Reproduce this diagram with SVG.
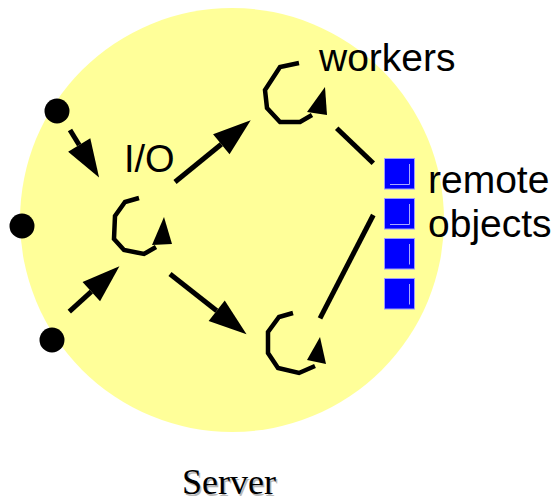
<svg xmlns="http://www.w3.org/2000/svg" width="557" height="502" viewBox="0 0 557 502">
  <defs>
    <style>
      .label { font-family: "Liberation Sans", Arial, sans-serif; font-size: 39px; fill: #000; }
      .caption { font-family: "Liberation Serif", "Times New Roman", serif; font-size: 36px; }
      .link { stroke: #000; stroke-width: 5; fill: none; }
      .loop { stroke: #000; stroke-width: 4.5; fill: none; stroke-linejoin: miter; }
      .tip { fill: #000; }
      .dot { fill: #000; }
      .obj { fill: #0000ff; stroke: #9c9cff; stroke-width: 1; }
      .bevel { stroke: #a8a8ff; stroke-width: 1; fill: none; }
    </style>
    <marker id="head" markerUnits="userSpaceOnUse" markerWidth="38" markerHeight="26"
            refX="0" refY="13" orient="auto" overflow="visible">
      <path d="M0,0 L38,13 L0,26 Z" fill="#000"/>
    </marker>
  </defs>

  <!-- server body -->
  <g id="server">
    <circle cx="232" cy="220" r="212" fill="#ffff99"/>
    <text class="caption" x="183.5" y="495.5" fill="#9a9a9a" opacity="0.7">Server</text>
    <text class="caption" x="182" y="494" fill="#000">Server</text>
  </g>

  <!-- client endpoints -->
  <g id="client1"><circle class="dot" cx="57" cy="111" r="12.5"/></g>
  <g id="client2"><circle class="dot" cx="22" cy="226" r="12.5"/></g>
  <g id="client3"><circle class="dot" cx="52" cy="340" r="12.5"/></g>

  <!-- I/O thread -->
  <g id="io">
    <polyline class="loop" points="139,198 125,202 115,216 114,239 124,250 144,254 156,247"/>
    <polygon class="tip" points="164,217 152,245 172,244"/>
    <text class="label" x="124" y="172" style="font-size:38px">I/O</text>
  </g>

  <!-- worker threads -->
  <g id="worker1">
    <polyline class="loop" points="299,63 280,67 265,90 267,108 280,122 300,122 312,115"/>
    <polygon class="tip" points="325,87 307,112 327,115"/>
    <text class="label" x="319" y="71">workers</text>
  </g>
  <g id="worker2">
    <polyline class="loop" points="293,313 279,317 268,332 268,353 278,368 299,373 315,366"/>
    <polygon class="tip" points="320,337 307,360 326,364"/>
  </g>

  <!-- remote objects -->
  <g id="objects">
    <rect class="obj" x="384.5" y="158.5" width="30" height="30.5"/>
    <polyline class="bevel" points="390,184.5 409.5,184.5 409.5,164"/>
    <rect class="obj" x="384.5" y="198.5" width="30" height="30.5"/>
    <polyline class="bevel" points="390,224.5 409.5,224.5 409.5,204"/>
    <rect class="obj" x="384.5" y="238.5" width="30" height="30.5"/>
    <line class="bevel" x1="409.5" y1="244" x2="409.5" y2="264.5"/>
    <rect class="obj" x="384.5" y="278.5" width="30" height="30.5"/>
    <line class="bevel" x1="409.5" y1="284" x2="409.5" y2="304.5"/>
    <text class="label" x="428" y="193">remote</text>
    <text class="label" x="428" y="237">objects</text>
  </g>

  <!-- connectors -->
  <g id="connectors">
    <line class="link" x1="70" y1="130" x2="79.2" y2="145" marker-end="url(#head)"/>
    <line class="link" x1="69.3" y1="311.7" x2="91.3" y2="291.7" marker-end="url(#head)"/>
    <line class="link" x1="175" y1="182" x2="221.3" y2="144.2" marker-end="url(#head)"/>
    <line class="link" x1="170" y1="274" x2="216.7" y2="310.8" marker-end="url(#head)"/>
    <line class="link" x1="336.7" y1="128.3" x2="373.3" y2="163.3"/>
    <line class="link" x1="373.3" y1="215" x2="320" y2="318.3"/>
  </g>
</svg>
